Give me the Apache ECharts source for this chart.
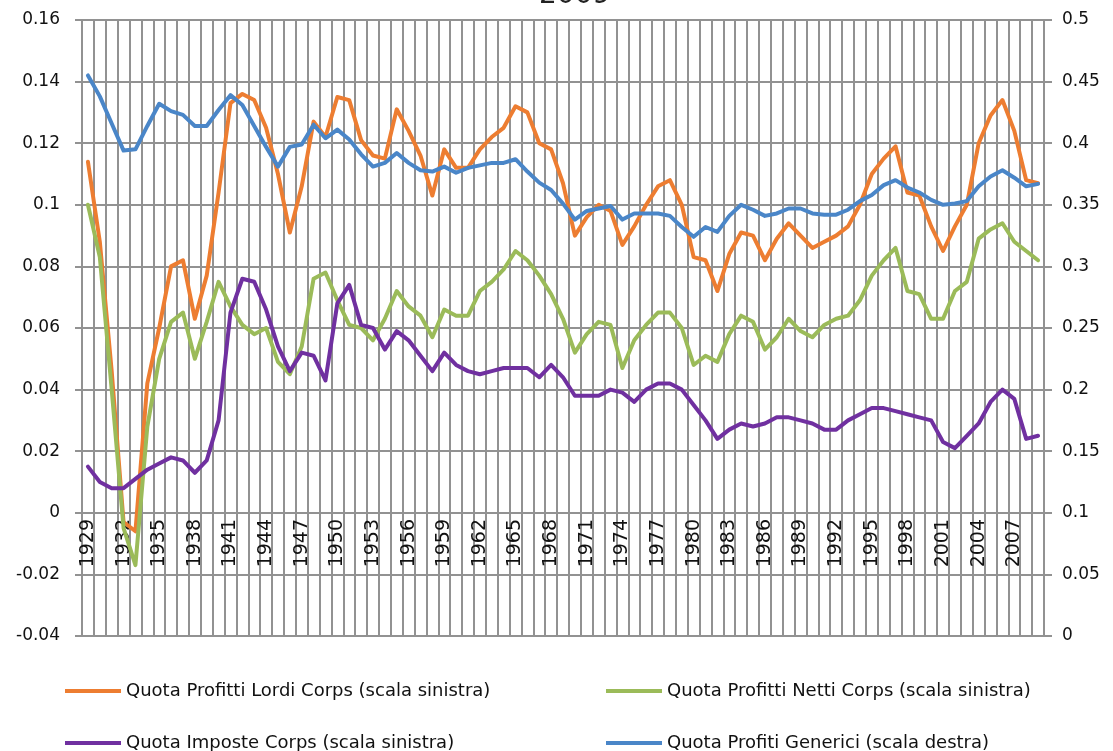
<!DOCTYPE html>
<html>
<head>
<meta charset="utf-8">
<script src="https://cdn.jsdelivr.net/npm/echarts@6/dist/echarts.min.js"></script>
<style>
html,body{margin:0;padding:0;background:#fff;}
#chart{width:1113px;height:751px;}
</style>
</head>
<body>
<div id="chart"></div>
<script>
const years = [];
for (let y = 1929; y <= 2009; y++) years.push(String(y));

const seriesNames = [
  'Quota Profitti Lordi Corps (scala sinistra)',
  'Quota Profitti Netti Corps (scala sinistra)',
  'Quota Imposte Corps (scala sinistra)',
  'Quota Profiti Generici (scala destra)'
];

const lordi = [
  0.114, 0.088, 0.046, -0.003, -0.006, 0.042, 0.060, 0.080, 0.082, 0.063, 0.077,
  0.104, 0.133, 0.136, 0.134, 0.125, 0.110, 0.091, 0.106, 0.127, 0.122,
  0.135, 0.134, 0.121, 0.116, 0.115, 0.131, 0.124, 0.116, 0.103, 0.118,
  0.112, 0.112, 0.118, 0.122, 0.125, 0.132, 0.130, 0.120, 0.118, 0.107,
  0.090, 0.096, 0.100, 0.098, 0.087, 0.093, 0.100, 0.106, 0.108, 0.100,
  0.083, 0.082, 0.072, 0.084, 0.091, 0.090, 0.082, 0.089, 0.094, 0.090,
  0.086, 0.088, 0.090, 0.093, 0.100, 0.110, 0.115, 0.119, 0.104, 0.103,
  0.093, 0.085, 0.093, 0.100, 0.120, 0.129, 0.134, 0.124, 0.108, 0.107
];

const netti = [
  0.100, 0.083, 0.040, -0.005, -0.017, 0.028, 0.050, 0.062, 0.065, 0.050, 0.062,
  0.075, 0.067, 0.061, 0.058, 0.060, 0.049, 0.045, 0.054, 0.076, 0.078,
  0.069, 0.061, 0.060, 0.056, 0.063, 0.072, 0.067, 0.064, 0.057, 0.066,
  0.064, 0.064, 0.072, 0.075, 0.079, 0.085, 0.082, 0.077, 0.071, 0.063,
  0.052, 0.058, 0.062, 0.061, 0.047, 0.056, 0.061, 0.065, 0.065, 0.060,
  0.048, 0.051, 0.049, 0.058, 0.064, 0.062, 0.053, 0.057, 0.063, 0.059,
  0.057, 0.061, 0.063, 0.064, 0.069, 0.077, 0.082, 0.086, 0.072, 0.071,
  0.063, 0.063, 0.072, 0.075, 0.089, 0.092, 0.094, 0.088, 0.085, 0.082
];

const imposte = [
  0.015, 0.010, 0.008, 0.008, 0.011, 0.014, 0.016, 0.018, 0.017, 0.013, 0.017,
  0.030, 0.065, 0.076, 0.075, 0.066, 0.054, 0.046, 0.052, 0.051, 0.043,
  0.068, 0.074, 0.061, 0.060, 0.053, 0.059, 0.056, 0.051, 0.046, 0.052,
  0.048, 0.046, 0.045, 0.046, 0.047, 0.047, 0.047, 0.044, 0.048, 0.044,
  0.038, 0.038, 0.038, 0.040, 0.039, 0.036, 0.040, 0.042, 0.042, 0.040,
  0.035, 0.030, 0.024, 0.027, 0.029, 0.028, 0.029, 0.031, 0.031, 0.030,
  0.029, 0.027, 0.027, 0.030, 0.032, 0.034, 0.034, 0.033, 0.032, 0.031,
  0.030, 0.023, 0.021, 0.025, 0.029, 0.036, 0.040, 0.037, 0.024, 0.025
];

const generici = [
  0.455, 0.438, 0.416, 0.394, 0.395, 0.414, 0.432, 0.426, 0.423, 0.414, 0.414,
  0.427, 0.439, 0.431, 0.414, 0.397, 0.381, 0.397, 0.399, 0.415, 0.404,
  0.411, 0.403, 0.391, 0.381, 0.384, 0.392, 0.384, 0.378, 0.377, 0.381,
  0.376, 0.380, 0.382, 0.384, 0.384, 0.387, 0.377, 0.368, 0.362, 0.351,
  0.338, 0.345, 0.347, 0.349, 0.338, 0.343, 0.343, 0.343, 0.341, 0.332,
  0.324, 0.332, 0.328, 0.341, 0.350, 0.346, 0.341, 0.343, 0.347, 0.347,
  0.343, 0.342, 0.342, 0.346, 0.353, 0.358, 0.366, 0.370, 0.364, 0.360,
  0.354, 0.350, 0.351, 0.353, 0.365, 0.373, 0.378, 0.372, 0.365, 0.367
];

const colors = ['#ED7D31', '#9BBB59', '#7030A0', '#4A86C8'];
const gridColor = '#929292';
const font = 'DejaVu Sans';

const chart = echarts.init(document.getElementById('chart'), null, {renderer: 'canvas'});

function lineSeries(name, data, color, yIdx) {
  return {
    name: name,
    type: 'line',
    data: data,
    yAxisIndex: yIdx,
    showSymbol: false,
    symbol: 'none',
    smooth: false,
    lineStyle: {color: color, width: 4, cap: 'round', join: 'round'},
    itemStyle: {color: color},
    emphasis: {disabled: true},
    animation: false
  };
}

function legendItem(name, left, top) {
  return {
    data: [name],
    left: left, top: top, orient: 'horizontal',
    icon: 'rect', itemWidth: 56, itemHeight: 4,
    selectedMode: false,
    textStyle: {fontFamily: font, fontSize: 18, color: '#111', lineHeight: 22}
  };
}

chart.setOption({
  animation: false,
  backgroundColor: '#fff',
  title: {
    text: '2009',
    left: 534,
    top: -23,
    textStyle: {fontFamily: font, fontSize: 28, fontWeight: 'normal', color: '#222'}
  },
  grid: {left: 82, right: 69, top: 20, bottom: 115, containLabel: false},
  legend: [
    legendItem(seriesNames[0], 60, 675),
    legendItem(seriesNames[1], 601, 675),
    legendItem(seriesNames[2], 60, 727),
    legendItem(seriesNames[3], 601, 727)
  ],
  xAxis: {
    type: 'category',
    data: years,
    boundaryGap: true,
    position: 'bottom',
    offset: -123,
    axisLine: {show: false, onZero: false},
    axisTick: {show: false},
    axisLabel: {
      interval: 2,
      rotate: 90,
      margin: 6,
      fontFamily: font,
      fontSize: 19,
      color: '#111'
    },
    splitLine: {show: true, interval: 0, lineStyle: {color: gridColor, width: 2}}
  },
  yAxis: [
    {
      type: 'value',
      min: -0.04, max: 0.16, interval: 0.02,
      position: 'left',
      axisLine: {show: true, lineStyle: {color: gridColor, width: 2}},
      axisTick: {show: true, length: 7, lineStyle: {color: gridColor, width: 2}},
      axisLabel: {margin: 22, fontFamily: font, fontSize: 17, color: '#111'},
      splitLine: {show: true, lineStyle: {color: gridColor, width: 2}}
    },
    {
      type: 'value',
      min: 0, max: 0.5, interval: 0.05,
      position: 'right',
      axisLine: {show: true, lineStyle: {color: gridColor, width: 2}},
      axisTick: {show: true, length: 8, lineStyle: {color: gridColor, width: 2}},
      axisLabel: {margin: 18, fontFamily: font, fontSize: 17, color: '#111'},
      splitLine: {show: false}
    }
  ],
  series: [
    lineSeries(seriesNames[0], lordi, colors[0], 0),
    lineSeries(seriesNames[1], netti, colors[1], 0),
    lineSeries(seriesNames[2], imposte, colors[2], 0),
    lineSeries(seriesNames[3], generici, colors[3], 1)
  ]
});
</script>
</body>
</html>
